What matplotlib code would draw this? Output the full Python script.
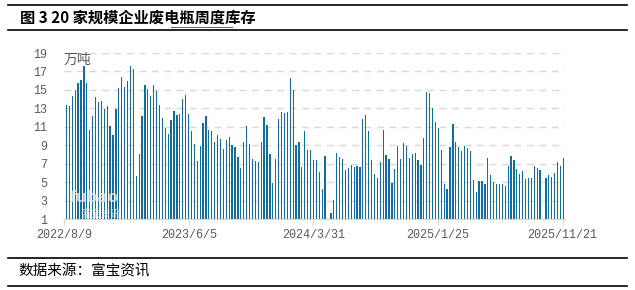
import numpy as np
import pandas as pd
import matplotlib
matplotlib.use("Agg")
import matplotlib.pyplot as plt
from matplotlib.lines import Line2D

plt.rcParams['font.family'] = ['Noto Sans CJK SC', 'DejaVu Sans']

title = "图 3 20 家规模企业废电瓶周度库存"
source = "数据来源：富宝资讯"
unit = "万吨"
first_week = "2022-08-14"
values = [
    13.4, 13.2, 14.3, 15.0, 15.7, 16.1, 17.6, 15.7, 10.7, 12.2,
    14.2, 13.7, 13.8, 12.9, 13.2, 11.1, 10.1, 12.9, 15.2, 16.4,
    15.3, 16.0, 17.6, 17.3, 5.7, 8.0, 12.2, 15.5, 15.1, 14.3,
    15.5, 14.9, 13.4, 11.9, 10.9, 10.2, 11.7, 12.7, 12.3, 12.4,
    14.0, 14.4, 12.4, 10.5, 9.1, 7.3, 8.9, 11.4, 12.2, 10.6,
    10.5, 9.4, 10.1, 9.7, 8.6, 9.6, 9.9, 9.0, 8.8, 7.7,
    6.5, 9.4, 11.1, 9.1, 7.5, 7.3, 7.2, 9.4, 12.1, 11.2,
    8.0, 4.9, 7.5, 11.8, 12.6, 12.5, 12.6, 16.3, 15.0, 9.0,
    9.3, 6.6, 10.5, 8.5, 8.5, 7.4, 7.4, 6.1, 4.2, 7.8,
    None, 1.7, 3.1, 8.2, 7.7, 7.5, 6.3, 6.5, 6.9, 6.6,
    6.8, 6.6, 11.8, 12.3, 10.5, 7.4, 5.9, 5.5, 7.2, 10.7,
    7.9, 7.5, 4.9, 6.4, 8.9, 7.5, 9.2, 8.9, 7.6, 8.0,
    8.2, 7.4, 6.9, 9.8, 14.8, 14.7, 13.0, 11.5, 10.9, 8.5,
    4.8, 4.3, 8.8, 11.3, 9.4, 8.8, 8.4, 8.9, 8.7, 8.4,
    5.2, 3.9, 5.1, 5.1, 4.8, 7.6, 5.75, 5.0, 4.8, 4.8,
    4.8, 4.55, 6.8, 7.8, 7.4, 6.4, 5.9, 6.2, 5.3, 5.5,
    5.5, 6.8, 6.5, 6.3, None, 5.5, 5.75, 5.6, 6.0, 7.2,
    6.7, 7.6,
]
x_tick_labels = ["2022/8/9", "2023/6/5", "2024/3/31", "2025/1/25", "2025/11/21"]
y_ticks = [1, 3, 5, 7, 9, 11, 13, 15, 17, 19]

dates = pd.date_range(first_week, periods=len(values), freq="7D")
vals = np.array([np.nan if v is None else v for v in values], dtype=float)
tick_dates = pd.to_datetime(x_tick_labels, format="%Y/%m/%d")

fig = plt.figure(figsize=(6.35, 2.9), dpi=100)
ax = fig.add_axes([64/635, 1-219/290, (565-64)/635, (219-53)/290])

bar_color = "#0E6E9E"
mask = ~np.isnan(vals)
ax.bar(dates[mask], vals[mask] - 1, bottom=1, width=3.0, color=bar_color, zorder=3)

ax.set_ylim(1, 19)
ax.set_yticks(y_ticks)
ax.set_xlim(tick_dates[0] - pd.Timedelta(days=1), tick_dates[-1] + pd.Timedelta(days=6))
ax.set_xticks(tick_dates)
ax.set_xticklabels(x_tick_labels)

for s in ["top", "right", "left"]:
    ax.spines[s].set_visible(False)
ax.spines["bottom"].set_color("#D9D9D9")
ax.spines["bottom"].set_linewidth(1.0)
ax.yaxis.grid(True, color="#D9D9D9", linestyle=(0, (5, 4)), linewidth=1.0, zorder=0)
ax.tick_params(axis="y", length=0, pad=12, labelsize=8.5, labelcolor="#595959")
ax.tick_params(axis="x", length=4, color="#D9D9D9", pad=3, labelsize=8.5, labelcolor="#595959")
for lab in ax.get_xticklabels() + ax.get_yticklabels():
    lab.set_family(["Liberation Mono", "DejaVu Sans"])

ax.text(0.0, 1.0, unit, transform=ax.transAxes, ha="left", va="top", fontsize=10,
        color="#595959", zorder=5)
# watermark
ax.text(0.012, 0.085, "fubao", transform=ax.transAxes, ha="left", va="bottom", fontsize=11,
        color="#E8E8E8", alpha=0.75, fontweight="bold", zorder=4, family=["DejaVu Sans"])
ax.text(0.035, 0.0, "富宝资讯", transform=ax.transAxes, ha="left", va="bottom", fontsize=7,
        color="#E8E8E8", alpha=0.75, zorder=4)

# title and frame lines
fig.add_artist(Line2D([8/635, 627/635], [1-5/290, 1-5/290], color="black", linewidth=1.2))
fig.add_artist(Line2D([8/635, 627/635], [1-30/290, 1-30/290], color="black", linewidth=1.2))
fig.text(20/635, 1-18/290, title, ha="left", va="center", fontsize=11, fontweight="bold", color="black")
fig.add_artist(Line2D([171/635, 232/635], [1-27/290, 1-27/290], color="#4472C4", linewidth=0.8))

fig.add_artist(Line2D([8/635, 627/635], [1-258/290, 1-258/290], color="black", linewidth=1.2))
fig.add_artist(Line2D([8/635, 627/635], [1-286/290, 1-286/290], color="black", linewidth=1.2))
fig.text(18/635, 1-271/290, source, ha="left", va="center", fontsize=10.5, color="black")

fig.savefig("out.png", dpi=100)
